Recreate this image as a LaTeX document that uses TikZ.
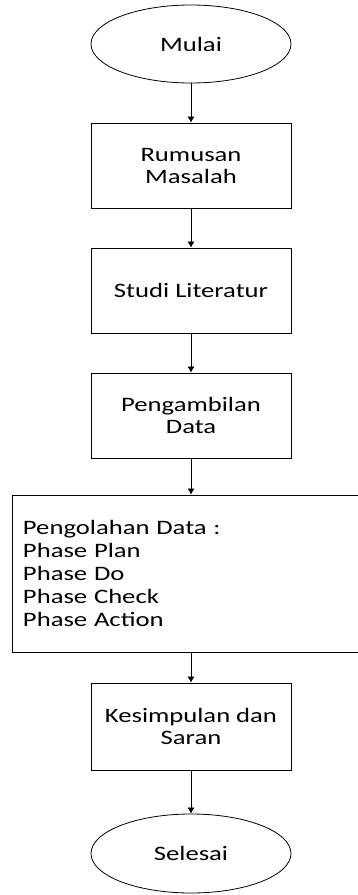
\documentclass[tikz,border=0pt]{standalone}
\usepackage{fontspec}
\setmainfont[FakeStretch=1.3]{Carlito}
\usetikzlibrary{shapes.geometric,arrows.meta}
\tikzset{
  terminal/.style={draw, ellipse, line width=0.8pt, inner sep=0pt, minimum width=200pt, minimum height=78pt},
  process/.style={draw, line width=0.8pt, inner sep=0pt, minimum width=200pt, minimum height=85pt, align=center},
  flow/.style={line width=0.7pt, -{Latex[length=6pt,width=7pt]}}
}
\begin{document}
\begin{tikzpicture}[x=1pt, y=-1pt, font=\fontsize{20.5}{22}\selectfont]
\useasboundingbox (0,0) rectangle (358,895);
\node[terminal] (mulai) at (191,44) {Mulai};
\node[process] (rumusan) at (191,165.5) {Rumusan\\Masalah};
\node[process] (studi) at (191,290.5) {Studi Literatur};
\node[process] (ambil) at (191,415.5) {Pengambilan\\Data};
\node[draw, line width=0.8pt, minimum height=157pt, inner xsep=11pt, text width=336pt, align=left,
  font=\fontsize{20.5}{23}\selectfont] (olah) at (191,573.5)
  {Pengolahan Data :\\Phase Plan\\Phase Do\\Phase Check\\Phase Action};
\node[process, minimum height=87pt] (simpul) at (191,726.5) {Kesimpulan dan\\Saran};
\node[terminal, minimum height=79pt] (selesai) at (191,853.5) {Selesai};
\draw[flow] (mulai) -- (rumusan);
\draw[flow] (rumusan) -- (studi);
\draw[flow] (studi) -- (ambil);
\draw[flow] (ambil) -- (olah);
\draw[flow] (olah) -- (simpul);
\draw[flow] (simpul) -- (selesai);
\end{tikzpicture}
\end{document}
